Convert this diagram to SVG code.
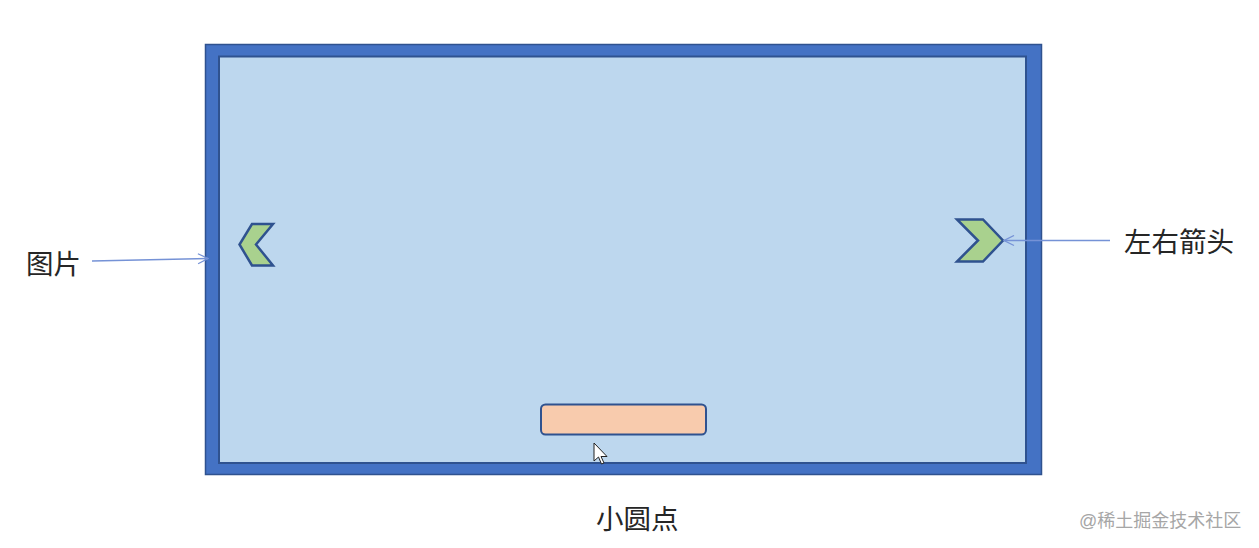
<svg xmlns="http://www.w3.org/2000/svg" width="1259" height="548" viewBox="0 0 1259 548">
<style>
.lbl{font-family:"Liberation Sans","Noto Sans CJK SC",sans-serif;font-size:27.5px;fill:#262626}
.wm{font-family:"Liberation Sans","Noto Sans CJK SC",sans-serif;font-size:18px;fill:#a6a6a6}
.conn{stroke:#7592d6;stroke-width:1.5;fill:none}
.chev{fill:#A9D18E;stroke:#2F528F;stroke-width:2.5;stroke-linejoin:miter}
</style>
<defs>
<marker id="open" viewBox="0 0 12 12" refX="11" refY="6" markerWidth="12" markerHeight="12" markerUnits="userSpaceOnUse" orient="auto">
<path d="M1,1 L11,6 L1,11" fill="none" stroke="#7592d6" stroke-width="1.3"/>
</marker>
</defs>
<rect width="1259" height="548" fill="#ffffff"/>
<g id="frame">
<rect x="205.5" y="44.5" width="836" height="430" fill="#4472C4" stroke="#2F528F" stroke-width="1.5"/>
<rect x="219" y="56.5" width="807" height="406.5" fill="#BDD7EE" stroke="#2F528F" stroke-width="2"/>
</g>
<g id="left-arrow">
<polygon class="chev" points="252,224 273,224 256,244.5 273,265.5 252,265.5 239.5,244.5"/>
</g>
<g id="right-arrow">
<polygon class="chev" points="957,219.5 983,219.5 1003,240.5 983,261.5 957,261.5 978,240.5"/>
</g>
<g id="dots">
<rect x="541" y="404.5" width="165" height="30" rx="4.5" fill="#F8CBAD" stroke="#2F528F" stroke-width="2"/>
</g>
<g id="cursor">
<polygon points="594,443 594,461 598.5,457 601.5,464 604,463 601,456.5 607,456.5" fill="#ffffff" stroke="#222" stroke-width="1"/>
</g>
<g id="connectors">
<line class="conn" x1="92" y1="261" x2="208" y2="258.5" marker-end="url(#open)"/>
<line class="conn" x1="1110" y1="240.5" x2="1004" y2="240.5" marker-end="url(#open)"/>
</g>
<g id="labels">
<text class="lbl" x="26" y="274">图片</text>
<text class="lbl" x="1124" y="252">左右箭头</text>
<text class="lbl" x="596" y="529">小圆点</text>
<text class="wm" x="1079" y="527">@稀土掘金技术社区</text>
</g>
</svg>
